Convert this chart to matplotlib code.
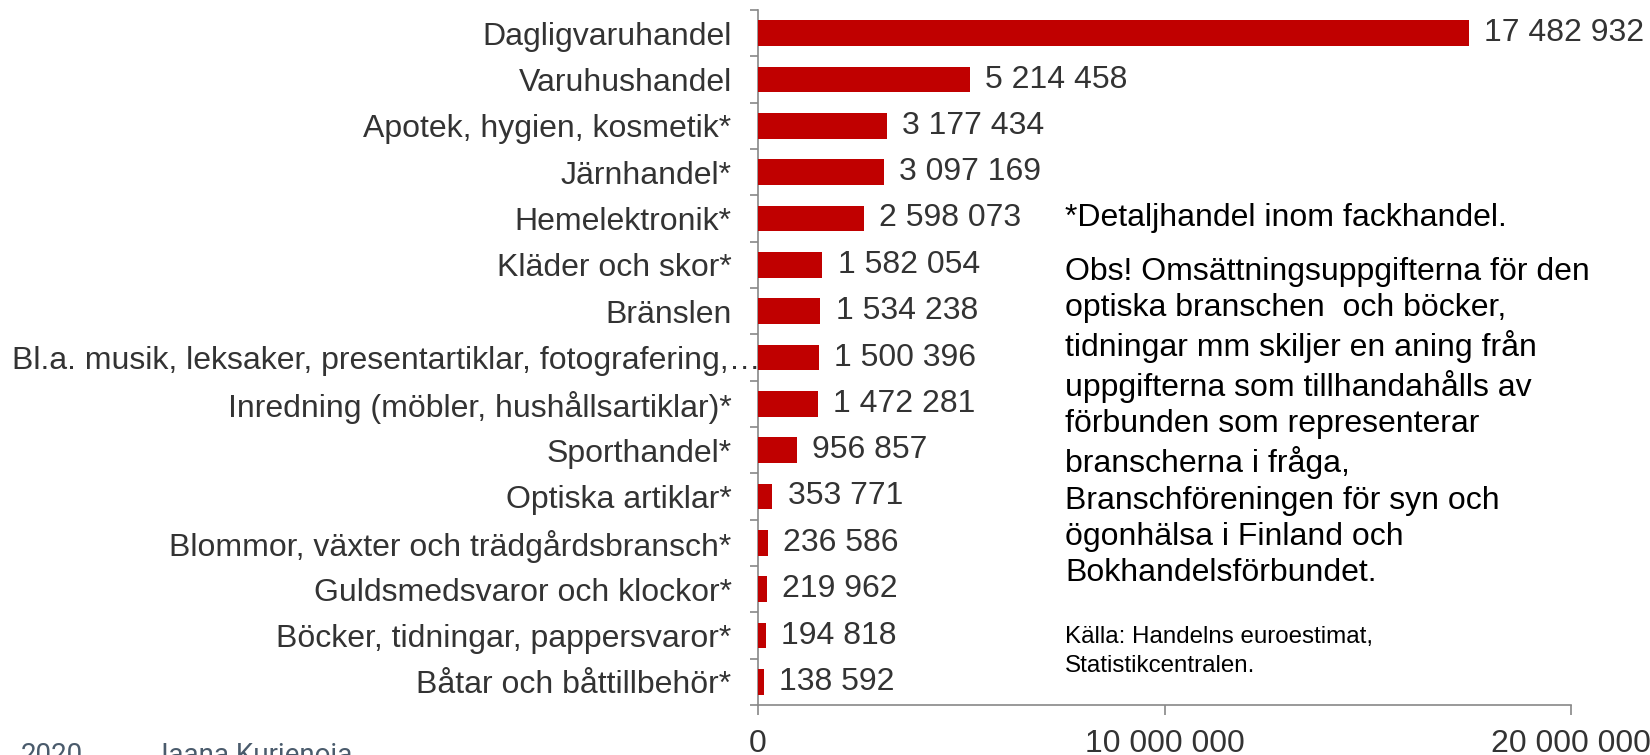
import matplotlib.pyplot as plt
from matplotlib.transforms import ScaledTranslation

categories = [
    "Dagligvaruhandel",
    "Varuhushandel",
    "Apotek, hygien, kosmetik*",
    "Järnhandel*",
    "Hemelektronik*",
    "Kläder och skor*",
    "Bränslen",
    "Bl.a. musik, leksaker, presentartiklar, fotografering,…",
    "Inredning (möbler, hushållsartiklar)*",
    "Sporthandel*",
    "Optiska artiklar*",
    "Blommor, växter och trädgårdsbransch*",
    "Guldsmedsvaror och klockor*",
    "Böcker, tidningar, pappersvaror*",
    "Båtar och båttillbehör*",
]
values = [17482932, 5214458, 3177434, 3097169, 2598073, 1582054, 1534238,
          1500396, 1472281, 956857, 353771, 236586, 219962, 194818, 138592]
xticks = [0, 10000000, 20000000]

note1 = "*Detaljhandel inom fackhandel."
note2 = ("Obs! Omsättningsuppgifterna för den\n"
         "optiska branschen  och böcker,\n"
         "tidningar mm skiljer en aning från\n"
         "uppgifterna som tillhandahålls av\n"
         "förbunden som representerar\n"
         "branscherna i fråga,\n"
         "Branschföreningen för syn och\n"
         "ögonhälsa i Finland och\n"
         "Bokhandelsförbundet.")
source = "Källa: Handelns euroestimat,\nStatistikcentralen."


def fmt(v):
    return f"{v:,}".replace(",", " ")


plt.rcParams['font.family'] = ['Liberation Sans', 'DejaVu Sans']
text_col = '#333333'
fs = 23

fig = plt.figure(figsize=(16.5, 7.55), dpi=100)
ax = fig.add_axes([758 / 1650, 1 - 705 / 755, (1571 - 758) / 1650, 695 / 755])

pos = list(range(len(categories)))
ax.barh(pos, values, height=0.56, color='#C00000', zorder=3)
ax.set_ylim(len(categories) - 0.5, -0.5)
ax.set_xlim(0, 20000000)

for p, v in zip(pos, values):
    ax.annotate(fmt(v), (v, p), xytext=(11, 0), textcoords='offset points',
                va='center', ha='left', fontsize=fs, color=text_col)

ax.set_yticks(pos)
ax.set_yticklabels(categories, fontsize=fs, color=text_col)
ax.set_yticks([p - 0.5 for p in pos] + [len(pos) - 0.5], minor=True)
ax.tick_params(axis='y', which='major', length=0, pad=19)
ax.tick_params(axis='y', which='minor', length=6, color='#888888', width=1.2)
ax.set_xticks(xticks)
ax.set_xticklabels([fmt(t) for t in xticks], fontsize=fs, color=text_col)
ax.tick_params(axis='x', length=7, color='#888888', width=1.2, pad=10)

for lbl in ax.get_yticklabels():
    if lbl.get_text().startswith("Bl.a."):
        lbl.set_transform(lbl.get_transform() + ScaledTranslation(21 / 72, 0, fig.dpi_scale_trans))

for s in ['top', 'right']:
    ax.spines[s].set_visible(False)
for s in ['left', 'bottom']:
    ax.spines[s].set_color('#888888')
    ax.spines[s].set_linewidth(1.2)

fig.text(1065 / 1650, 1 - 218 / 755, note1, fontsize=fs, color='black',
         ha='left', va='center')
fig.text(1065 / 1650, 1 - 257 / 755, note2, fontsize=fs, color='black',
         ha='left', va='top', linespacing=1.27)
fig.text(1065 / 1650, 1 - 626 / 755, source, fontsize=17.4, color='black',
         ha='left', va='top', linespacing=1.4)

fig.text(21 / 1650, 1 - 742 / 755, "2020", fontsize=20, color='#4a5b6c',
         family=['Roboto', 'DejaVu Sans'], ha='left', va='top')
fig.text(153 / 1650, 1 - 742 / 755, "Jaana Kurjenoja", fontsize=20, color='#4a5b6c',
         family=['Roboto', 'DejaVu Sans'], ha='left', va='top')

fig.savefig('out.png', dpi=100)
